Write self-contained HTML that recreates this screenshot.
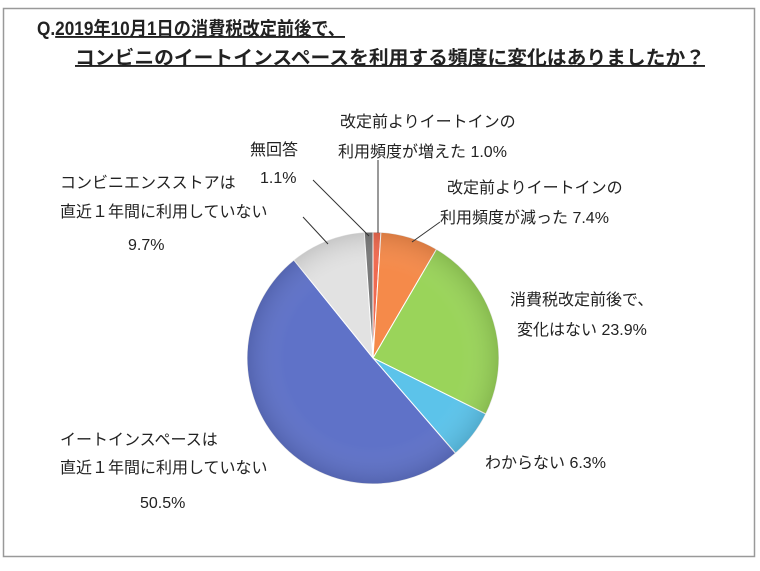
<!DOCTYPE html>
<html><head><meta charset="utf-8"><style>
body{margin:0;background:#fff;width:760px;height:566px;overflow:hidden}
svg text{font-family:"Liberation Sans","Noto Sans CJK JP",sans-serif;fill:#222}
</style></head><body>
<svg width="760" height="566" viewBox="0 0 760 566">
<defs>
<radialGradient id="g" cx="50%" cy="50%" r="50%"><stop offset="0.7" stop-color="#fff" stop-opacity="0"/><stop offset="1" stop-color="#000" stop-opacity="0.12"/></radialGradient>
</defs>
<rect x="3.5" y="8.5" width="751" height="548" fill="#fff" stroke="#999" stroke-width="1.5"/>
<text x="37" y="35" font-size="19" font-weight="bold" textLength="308" lengthAdjust="spacingAndGlyphs">Q.<tspan text-decoration="underline">2019年10月1日の消費税改定前後で、</tspan></text>
<text x="75" y="64" font-size="19" font-weight="bold" text-decoration="underline" textLength="630" lengthAdjust="spacingAndGlyphs">コンビニのイートインスペースを利用する頻度に変化はありましたか？</text>
<g id="pie"></g>
<g stroke="#333" stroke-width="1" fill="none">
<path d="M378 160 L378 233"/>
<path d="M440 222 L412 242"/>
<path d="M313 180 L369 236"/>
<path d="M303 217 L328 244"/>
</g>
<g font-size="16">
<text x="340" y="127">改定前よりイートインの</text>
<text x="338" y="157">利用頻度が増えた 1.0%</text>
<text x="447" y="193">改定前よりイートインの</text>
<text x="440" y="223">利用頻度が減った 7.4%</text>
<text x="510" y="305">消費税改定前後で、</text>
<text x="517" y="335">変化はない 23.9%</text>
<text x="485" y="468">わからない 6.3%</text>
<text x="60" y="445">イートインスペースは</text>
<text x="60" y="473">直近１年間に利用していない</text>
<text x="140" y="508">50.5%</text>
<text x="60" y="188">コンビニエンスストアは</text>
<text x="60" y="217">直近１年間に利用していない</text>
<text x="128" y="250">9.7%</text>
<text x="250" y="155">無回答</text>
<text x="260" y="183">1.1%</text>
</g>
</svg>
<script>
var d=[[1.0,"#f06a50"],[7.4,"#f58a4a"],[23.9,"#9ad45a"],[6.3,"#5cc3ea"],[50.5,"#5f72c8"],[9.7,"#e2e2e2"],[1.1,"#7a7a7a"]];
var cx=373,cy=358,r=126,a=0,s="",tot=99.9;
d.forEach(function(p){var a2=a+p[0]/tot*2*Math.PI;
var x1=cx+r*Math.sin(a),y1=cy-r*Math.cos(a),x2=cx+r*Math.sin(a2),y2=cy-r*Math.cos(a2);
s+='<path d="M'+cx+' '+cy+' L'+x1+' '+y1+' A'+r+' '+r+' 0 '+((a2-a)>Math.PI?1:0)+' 1 '+x2+' '+y2+' Z" fill="'+p[1]+'" stroke="#fff" stroke-width="1"/>';a=a2;});
s+='<circle cx="'+cx+'" cy="'+cy+'" r="'+r+'" fill="url(#g)"/>';
document.getElementById("pie").innerHTML=s;
</script>
</body></html>
